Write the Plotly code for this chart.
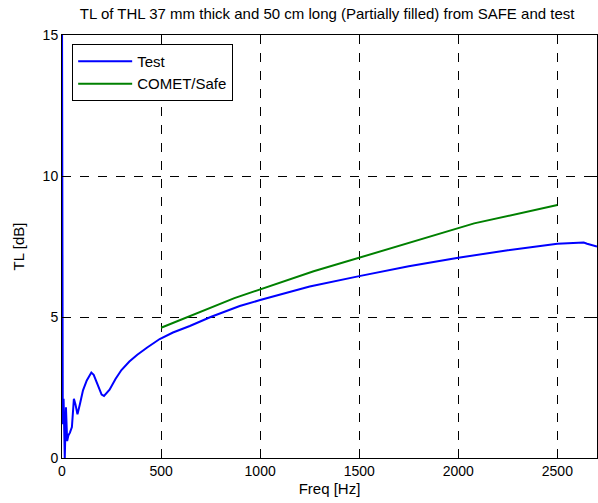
import plotly.graph_objects as go

test_freq = [0, 4, 8, 14, 20, 26, 32, 40, 50, 60, 68, 78, 90, 106, 125, 148, 160, 180, 200, 212,
             240, 270, 300, 340, 380, 430, 493, 560, 645, 750, 897, 1000, 1250, 1500, 1750,
             2000, 2250, 2500, 2600, 2633, 2650, 2670, 2700]
test_tl = [16, 1.2, 2.1, 0.0, 1.8, 0.6, 0.8, 0.9, 1.1, 2.1, 1.9, 1.55, 1.9, 2.4, 2.75, 3.03, 2.95, 2.6,
           2.25, 2.2, 2.42, 2.8, 3.12, 3.42, 3.66, 3.92, 4.22, 4.45, 4.68, 5.0, 5.39, 5.6, 6.08, 6.45,
           6.8, 7.1, 7.37, 7.6, 7.63, 7.64, 7.6, 7.55, 7.5]

safe_freq = [500, 870, 1270, 2080, 2500]
safe_tl = [4.62, 5.67, 6.62, 8.32, 8.97]

x_ticks = [0, 500, 1000, 1500, 2000, 2500]
y_ticks = [0, 5, 10, 15]

fig = go.Figure()
fig.add_trace(go.Scatter(x=test_freq, y=test_tl, mode="lines", name="Test",
                         line=dict(color="#0000ff", width=2)))
fig.add_trace(go.Scatter(x=safe_freq, y=safe_tl, mode="lines", name="COMET/Safe",
                         line=dict(color="#008000", width=2)))

axis_common = dict(showline=True, linecolor="black", linewidth=1, mirror="ticks",
                   ticks="inside", ticklen=5, tickcolor="black",
                   showgrid=True, gridcolor="black", griddash="dash", gridwidth=1,
                   zeroline=False, automargin=False,
                   tickfont=dict(size=14, color="black"))

fig.update_layout(
    width=598, height=503,
    margin=dict(l=62, r=1, t=35, b=45),
    paper_bgcolor="white", plot_bgcolor="white",
    font=dict(family="Liberation Sans, Arial, sans-serif", size=14, color="black"),
    title=dict(text="TL of THL 37 mm thick and 50 cm long (Partially filled) from SAFE and test",
               x=0.547, xanchor="center", y=0.972, yanchor="middle",
               font=dict(size=15, color="black")),
    xaxis=dict(range=[0, 2700], tickvals=x_ticks,
               title=dict(text="Freq [Hz]", standoff=5, font=dict(size=15)), **axis_common),
    yaxis=dict(range=[0, 15], tickvals=y_ticks,
               title=dict(text="TL [dB]", standoff=14, font=dict(size=15)), **axis_common),
    legend=dict(x=0.019, y=0.979, xanchor="left", yanchor="top",
                bgcolor="white", bordercolor="black", borderwidth=1,
                font=dict(size=15), itemwidth=54),
    showlegend=True,
)

fig.write_html("out.html")
